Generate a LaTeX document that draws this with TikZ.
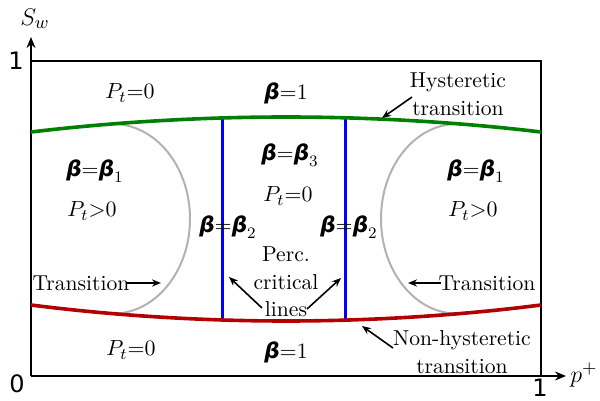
\documentclass[tikz,border=0pt]{standalone}
\usepackage{fontspec}
\usetikzlibrary{arrows.meta}
\newfontfamily\betafont{DejaVu Sans}[BoldItalicFont={DejaVu Sans Bold Oblique}]
\newfontfamily\axisfont{DejaVu Sans}
\newcommand\bb{\mbox{\betafont\bfseries\itshape β}}
\begin{document}
\begin{tikzpicture}[x=0.5pt,y=-0.5pt,
  lbl/.style={inner sep=0pt,font=\fontsize{10.8}{13.8}\selectfont,align=center},
  axlbl/.style={inner sep=0pt,font=\axisfont\fontsize{12}{14}\selectfont},
  big/.style={inner sep=0pt,font=\fontsize{12.5}{14}\selectfont},
  ptr/.style={-{Stealth[length=4.5pt,width=3.6pt]},line width=0.8pt},
  axis/.style={line width=1pt,-{Stealth[length=5.5pt,width=4.5pt]}},
  perc/.style={blue,line width=1.5pt},
  hyst/.style={green!50!black,line width=1.8pt},
  nonhyst/.style={red!70!black,line width=1.8pt},
  trans/.style={black!30,line width=1pt}]
\useasboundingbox (0,0) rectangle (600,401);
% frame
\coordinate (O) at (31,376);
\coordinate (Ytop) at (31,37);
\coordinate (Xend) at (566,376);
\draw[line width=1pt] (31,61) -- (541,61) -- (541,376);
\draw[axis] (O) -- (Ytop);
\draw[axis] (O) -- (Xend);
% percolation lines
\draw[perc] (222,119.5) -- (222,319.5);
\draw[perc] (345,119.5) -- (345,319.5);
% gray transition arcs
\draw[trans] (113,124) arc[start angle=-90,end angle=90,x radius=77,y radius=94.8];
\draw[trans] (457,124) arc[start angle=270,end angle=90,x radius=76,y radius=94.8];
% curves
\draw[hyst] (31,132) parabola bend (286,117) (541,132);
\draw[nonhyst] (31,305) parabola bend (286,321) (541,305);
% axis labels
\node[axlbl] (one) at (16,61) {1};
\node[axlbl] (zero) at (17,384) {0};
\node[axlbl] (onex) at (540,388) {1};
\node[big] (sw) at (35,19) {$S_w$};
\node[big] (pp) at (584,375) {$p^+$};
% region labels
\node[lbl] (pt1) at (130,93) {$P_t{=}0$};
\node[lbl] (b1) at (286,93) {$\bb{=}1$};
\node[lbl] (hy) at (458,94) {Hysteretic\\transition};
\node[lbl] (bl1) at (95,171) {$\bb{=}\bb_1$};
\node[lbl] (ptl) at (92,211) {$P_t{>}0$};
\node[lbl] (br1) at (476,171) {$\bb{=}\bb_1$};
\node[lbl] (ptr1) at (473,211) {$P_t{>}0$};
\node[lbl] (b3) at (290,155) {$\bb{=}\bb_3$};
\node[lbl] (ptc) at (288,196) {$P_t{=}0$};
\node[lbl] (b2l) at (228,227) {$\bb{=}\bb_2$};
\node[lbl] (b2r) at (349,227) {$\bb{=}\bb_2$};
\node[lbl] (perc) at (286,282) {Perc.\\critical\\lines};
\node[lbl] (trl) at (81,283) {Transition};
\node[lbl] (trr) at (487,283) {Transition};
\node[lbl] (pt2) at (131,350) {$P_t{=}0$};
\node[lbl] (b1b) at (286,352) {$\bb{=}1$};
\node[lbl] (nh) at (462,352) {Non-hysteretic\\transition};
% pointers
\coordinate (hyA) at (412,97);  \coordinate (hyB) at (382,118);
\coordinate (nhA) at (393,348); \coordinate (nhB) at (362,326);
\coordinate (tlA) at (127,283); \coordinate (tlB) at (161,283);
\coordinate (trA) at (441,283); \coordinate (trB) at (408,283);
\coordinate (plA) at (262,308); \coordinate (plB) at (229,277);
\coordinate (prA) at (307,309); \coordinate (prB) at (341,278);
\draw[ptr] (hyA) -- (hyB);
\draw[ptr] (nhA) -- (nhB);
\draw[ptr] (tlA) -- (tlB);
\draw[ptr] (trA) -- (trB);
\draw[ptr] (plA) -- (plB);
\draw[ptr] (prA) -- (prB);
\end{tikzpicture}
\end{document}
